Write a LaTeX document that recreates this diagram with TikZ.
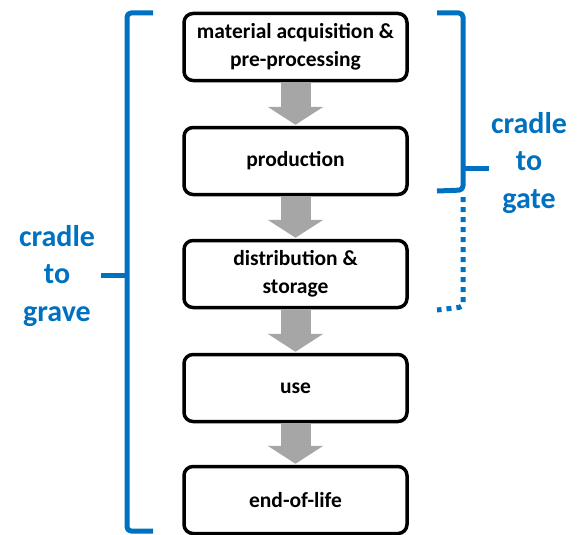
\documentclass[tikz,border=0pt]{standalone}
\usepackage{fontspec}
\setmainfont{Carlito}
\usetikzlibrary{arrows.meta}
\definecolor{bracketblue}{RGB}{0,112,192}
\definecolor{flowgray}{RGB}{166,166,166}
\tikzset{
  stage/.style={draw=black, line width=3.5pt, rounded corners=9pt, fill=white,
    minimum width=223pt, minimum height=67pt, align=center,
    font=\fontsize{21.5}{28}\selectfont\bfseries},
  flow/.style={draw=flowgray, line width=30pt, line cap=butt,
    -{Triangle[width=55pt, length=18pt]}, shorten >=1pt},
  brace/.style={draw=bracketblue, line width=5pt, rounded corners=4pt},
  scopelabel/.style={text=bracketblue, align=center,
    font=\fontsize{30}{37.5}\selectfont\bfseries}
}
\begin{document}
\begin{tikzpicture}[x=1pt, y=-1pt, line join=round]
	\useasboundingbox (0,0) rectangle (586,535);
	% life cycle stages
	\node[stage] (mat) at (295.5,47) {material acquisition \&\\pre-processing};
	\node[stage] (prod) at (295.5,161) {production};
	\node[stage] (dist) at (295.5,274) {distribution \&\\storage};
	\node[stage] (use) at (295.5,388) {use};
	\node[stage] (eol) at (295.5,500) {end-of-life};
	\foreach \a/\b in {mat/prod, prod/dist, dist/use, use/eol}{
	\draw[flow] (\a) -- (\b);
	}
	% cradle to grave
	\path (153,13) coordinate (GT) (127,13) coordinate (GA) (127,531) coordinate (GB) (153,531) coordinate (GE);
	\draw[brace] (GT) -- (GA) -- (GB) -- (GE);
	\draw[brace] (127,275) coordinate (GM) -- (101,275) coordinate (GP);
	\node[scopelabel] (grave) at (57,276) {cradle\\to\\grave};
	% cradle to gate
	\path (437,13) coordinate (KT) (463,13) coordinate (KA) (463,190) coordinate (KB) (437,191) coordinate (KE);
	\draw[brace] (KT) -- (KA) -- (KB) -- (KE);
	\draw[brace] (463,168) coordinate (KM) -- (489,168) coordinate (KP);
	\draw[brace, dash pattern=on 5pt off 5pt] (463,197) -- (463,307) -- (437,310);
	\node[scopelabel] (gate) at (529,163) {cradle\\to\\gate};
\end{tikzpicture}
\end{document}
